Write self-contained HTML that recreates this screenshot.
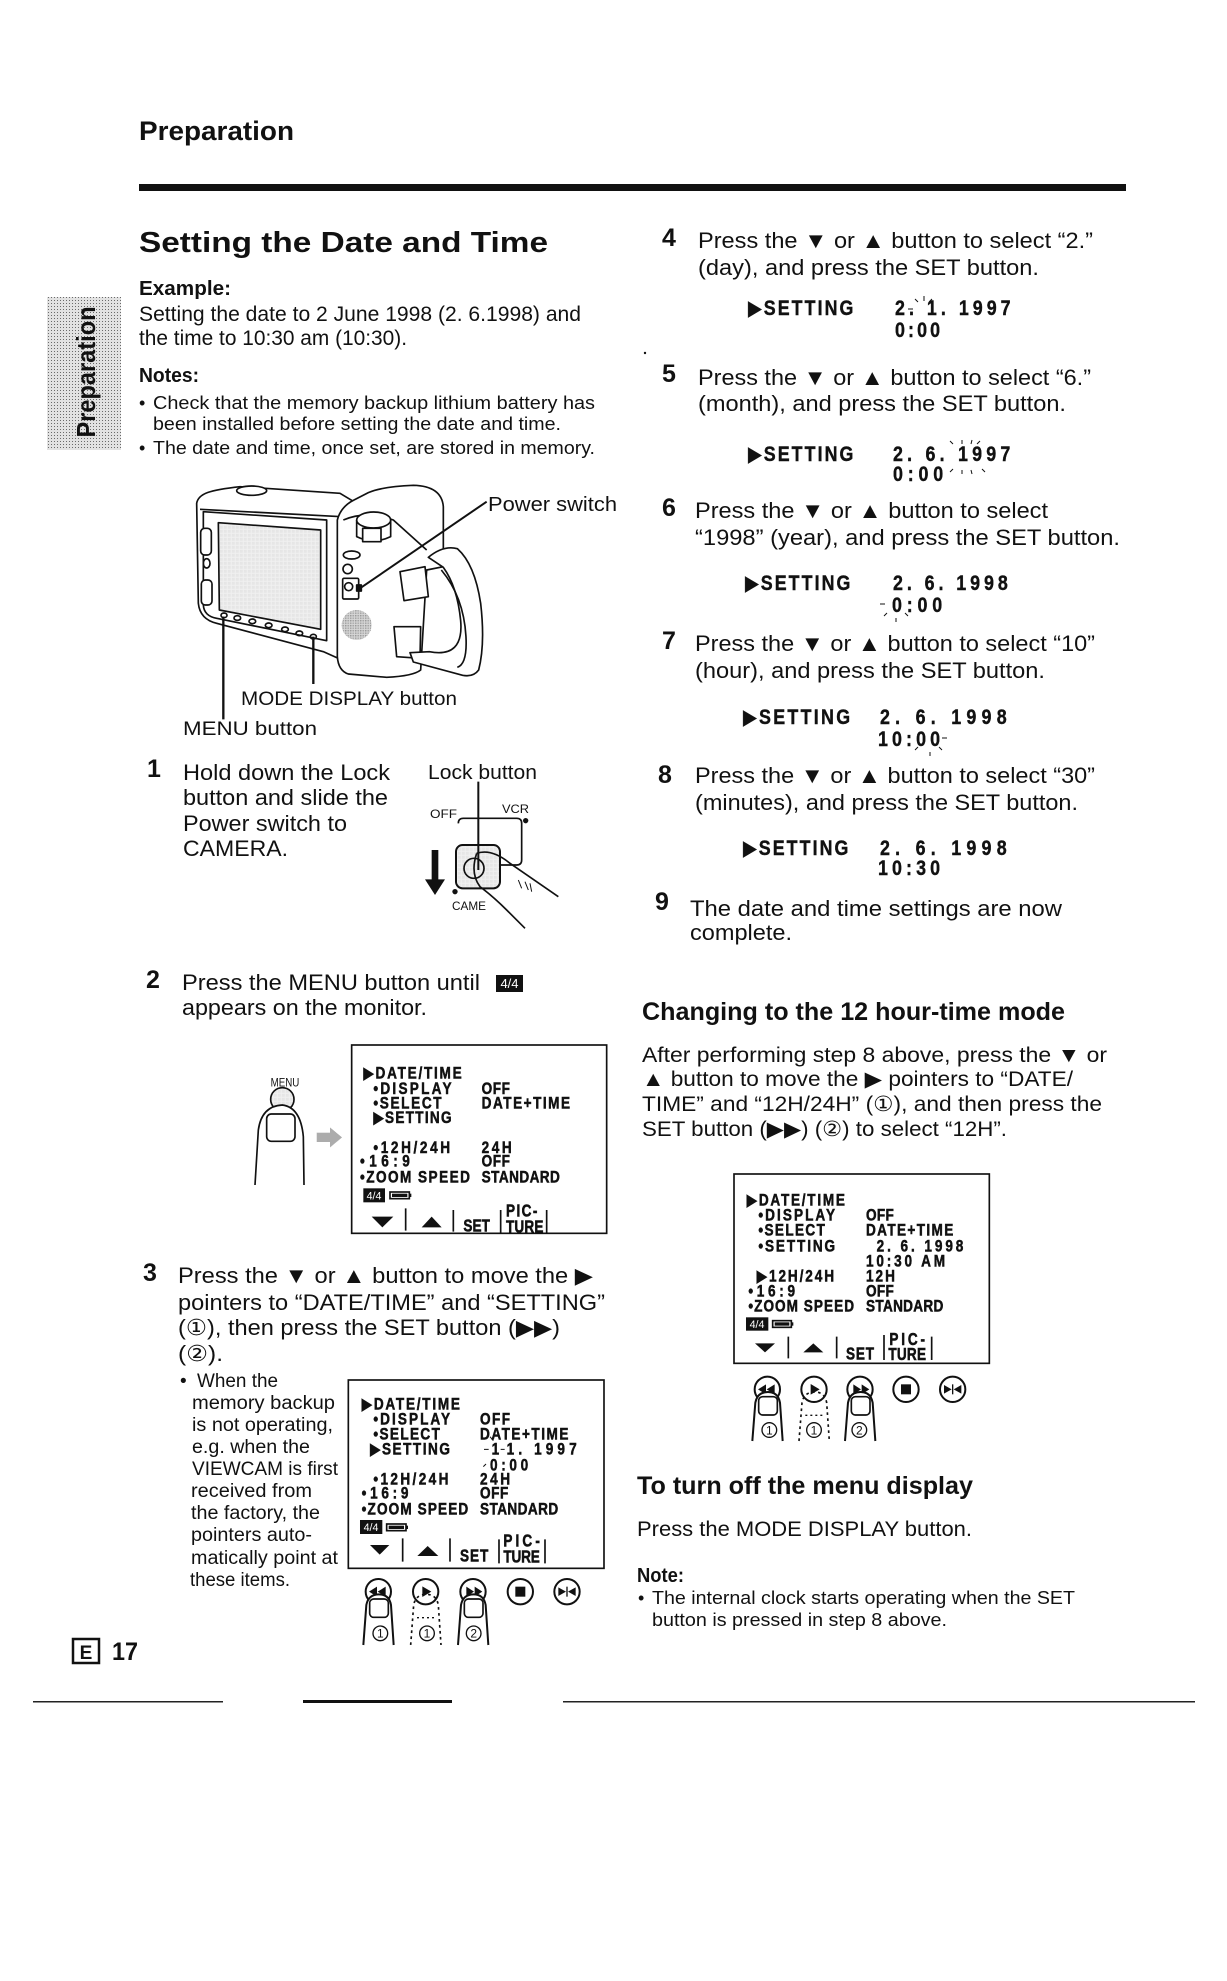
<!DOCTYPE html>
<html><head><meta charset="utf-8"><title>Setting the Date and Time</title>
<style>
html,body{margin:0;padding:0;background:#fff;}
svg{display:block;}
.t{font-family:"Liberation Sans","DejaVu Sans",sans-serif;fill:#111;}
.b{font-weight:bold;}
.l{font-family:"Liberation Sans","DejaVu Sans",sans-serif;font-weight:bold;fill:#111;font-size:48px;stroke:#111;stroke-width:1.5px;}
.s{font-family:"Liberation Sans","DejaVu Sans",sans-serif;font-weight:bold;fill:#111;font-size:21px;stroke:#111;stroke-width:0.4px;}
</style></head>
<body>
<svg width="1227" height="1981" viewBox="0 0 1227 1981" xmlns="http://www.w3.org/2000/svg">
<defs>
<pattern id="st" width="3" height="3" patternUnits="userSpaceOnUse"><rect width="3" height="3" fill="#e2e2e2"/><rect width="1" height="1" fill="#6a6a6a"/></pattern>
<pattern id="st2" width="4" height="4" patternUnits="userSpaceOnUse"><rect width="4" height="4" fill="#f0f0f0"/><rect width="1" height="1" fill="#999"/></pattern>
<pattern id="st3" width="3" height="3" patternUnits="userSpaceOnUse"><rect width="3" height="3" fill="#bbb"/><rect width="1" height="1" fill="#333"/></pattern>
<pattern id="st4" width="5" height="5" patternUnits="userSpaceOnUse"><rect width="5" height="5" fill="#d8d8d8"/><rect width="2" height="2" fill="#555"/></pattern>
</defs>
<rect width="1227" height="1981" fill="#fff"/>

<!-- Header -->
<text class="t b" x="139" y="140" font-size="27" textLength="155" lengthAdjust="spacingAndGlyphs">Preparation</text>
<rect x="139" y="184" width="987" height="7" fill="#111"/>

<!-- Sidebar tab -->
<rect x="47" y="297" width="74" height="153" fill="url(#st)"/>
<g transform="translate(95,372) rotate(-90)"><text class="t b" x="0" y="0" font-size="26" text-anchor="middle" textLength="131" lengthAdjust="spacingAndGlyphs">Preparation</text></g>

<!-- Title and intro -->
<text class="t b" x="139" y="252" font-size="29" textLength="409" lengthAdjust="spacingAndGlyphs">Setting the Date and Time</text>
<text class="t b" x="139" y="295" font-size="20" textLength="92" lengthAdjust="spacingAndGlyphs">Example:</text>
<text class="t" x="139" y="321" font-size="21" textLength="442" lengthAdjust="spacingAndGlyphs">Setting the date to 2 June 1998 (2. 6.1998) and</text>
<text class="t" x="139" y="345" font-size="21" textLength="268" lengthAdjust="spacingAndGlyphs">the time to 10:30 am (10:30).</text>
<text class="t b" x="139" y="382" font-size="20" textLength="60" lengthAdjust="spacingAndGlyphs">Notes:</text>
<text class="t" x="139" y="409" font-size="18">•</text>
<text class="t" x="153" y="409" font-size="18" textLength="442" lengthAdjust="spacingAndGlyphs">Check that the memory backup lithium battery has</text>
<text class="t" x="153" y="430" font-size="18" textLength="408" lengthAdjust="spacingAndGlyphs">been installed before setting the date and time.</text>
<text class="t" x="139" y="454" font-size="18">•</text>
<text class="t" x="153" y="454" font-size="18" textLength="442" lengthAdjust="spacingAndGlyphs">The date and time, once set, are stored in memory.</text>

<!-- Camera illustration (zoom coords) -->
<g transform="translate(180,470) scale(0.33333)" fill="none" stroke="#111" stroke-width="5" stroke-linejoin="round">
  <path d="M50,100 C55,70 90,60 180,50 L480,70 L530,100 L490,140 L475,565 L430,545 L110,460 Q60,448 55,400 Z" fill="#fff"/>
  <path d="M60,118 L485,140"/>
  <ellipse cx="215" cy="62" rx="45" ry="14" fill="#fff"/>
  <path d="M70,125 L440,150 L440,512 L110,445 Q72,438 70,405 Z" fill="#fff"/>
  <path d="M115,158 L422,180 L422,478 L118,420 Z" fill="url(#st2)"/>
  <rect x="62" y="175" width="32" height="80" rx="12" fill="#fff"/>
  <ellipse cx="80" cy="280" rx="10" ry="14"/>
  <rect x="64" y="330" width="32" height="75" rx="12" fill="#fff"/>
  <ellipse cx="132" cy="436" rx="9" ry="7"/><ellipse cx="172" cy="444" rx="10" ry="7"/><ellipse cx="217" cy="454" rx="10" ry="7"/><ellipse cx="266" cy="466" rx="10" ry="7"/><ellipse cx="315" cy="478" rx="10" ry="7"/><ellipse cx="358" cy="490" rx="10" ry="7"/><ellipse cx="400" cy="500" rx="9" ry="7"/>
  <path d="M472,150 Q482,110 522,90 L565,68 Q605,50 700,46 Q785,48 790,110 L790,290 L740,300 L722,600 Q700,618 620,622 L505,612 Q475,602 472,560 Z" fill="#fff"/>
  <path d="M490,150 Q560,120 640,150 L740,240"/>
  <path d="M530,150 L530,200 Q580,225 632,200 L632,150" fill="#fff"/>
  <ellipse cx="581" cy="150" rx="51" ry="24" fill="#fff"/>
  <rect x="548" y="175" width="55" height="40" fill="#fff"/>
  <ellipse cx="515" cy="255" rx="25" ry="12"/>
  <circle cx="503" cy="297" r="14"/>
  <rect x="488" y="325" width="48" height="62" rx="4" fill="#fff"/>
  <circle cx="506" cy="350" r="12"/>
  <rect x="530" y="345" width="14" height="18" fill="#111"/>
  <circle cx="530" cy="465" r="45" fill="url(#st4)" stroke="none"/>
  <path d="M660,305 L735,290 L745,380 L672,392 Z" fill="#fff"/>
  <path d="M642,470 L722,470 L720,565 L650,560 Z" fill="#fff"/>
  <path d="M745,262 Q790,225 832,236 Q884,282 902,400 Q916,522 896,600 Q880,622 848,616 L700,576 L690,548 L748,545 Q852,565 842,452 Q832,350 790,292 Z" fill="#fff"/>
  <path d="M784,300 Q852,382 858,502 Q862,582 832,592"/>
  <path d="M920,95 L540,355" stroke-width="6"/>
  <path d="M130,440 L130,748" stroke-width="7"/>
  <path d="M400,500 L400,642" stroke-width="7"/>
</g>
<text class="t" x="488" y="511" font-size="20" textLength="129" lengthAdjust="spacingAndGlyphs">Power switch</text>
<text class="t" x="241" y="705" font-size="19" textLength="216" lengthAdjust="spacingAndGlyphs">MODE DISPLAY button</text>
<text class="t" x="183" y="735" font-size="19" textLength="134" lengthAdjust="spacingAndGlyphs">MENU button</text>

<!-- Step 1 -->
<text class="t b" x="147" y="777" font-size="25">1</text>
<text class="t" x="183" y="780" font-size="22" textLength="207" lengthAdjust="spacingAndGlyphs">Hold down the Lock</text>
<text class="t" x="183" y="805" font-size="22" textLength="205" lengthAdjust="spacingAndGlyphs">button and slide the</text>
<text class="t" x="183" y="831" font-size="22" textLength="164" lengthAdjust="spacingAndGlyphs">Power switch to</text>
<text class="t" x="183" y="856" font-size="22" textLength="105" lengthAdjust="spacingAndGlyphs">CAMERA.</text>
<text class="t" x="428" y="779" font-size="20" textLength="109" lengthAdjust="spacingAndGlyphs">Lock button</text>
<g transform="translate(130,740) scale(0.33333)" fill="none" stroke="#111" stroke-width="5">
  <path d="M985,250 Q985,235 1000,235 L1160,235 Q1175,235 1175,250 L1175,360 Q1175,375 1160,375 L1110,375"/>
  <rect x="978" y="315" width="132" height="130" rx="20" fill="url(#st2)" stroke-width="6"/>
  <circle cx="1032" cy="385" r="30"/>
  <path d="M1045,125 L1045,390" stroke-width="6"/>
  <path d="M1040,340 Q1085,325 1140,370 L1285,470" fill="none"/>
  <path d="M1040,340 Q1020,400 1050,440 Q1090,470 1130,510 L1185,565"/>
  <path d="M1165,420 L1175,445 M1185,425 L1195,450 M1200,430 L1205,455" stroke-width="3"/>
  <rect x="905" y="330" width="20" height="100" fill="#111" stroke="none"/>
  <polygon points="885,418 945,418 915,465" fill="#111" stroke="none"/>
  <circle cx="1187" cy="242" r="8" fill="#111" stroke="none"/>
  <circle cx="975" cy="455" r="8" fill="#111" stroke="none"/>
</g>
<text class="t" x="430" y="818" font-size="12" textLength="27" lengthAdjust="spacingAndGlyphs">OFF</text>
<text class="t" x="502" y="813" font-size="12" textLength="27" lengthAdjust="spacingAndGlyphs">VCR</text>
<text class="t" x="452" y="910" font-size="12" textLength="34" lengthAdjust="spacingAndGlyphs">CAME</text>

<!-- Step 2 -->
<text class="t b" x="146" y="988" font-size="25">2</text>
<text class="t" x="182" y="990" font-size="22" textLength="298" lengthAdjust="spacingAndGlyphs">Press the MENU button until</text>
<rect x="496" y="975" width="27" height="17" fill="#111"/>
<text class="t" x="509.5" y="988" font-size="13" text-anchor="middle" style="fill:#fff">4/4</text>
<text class="t" x="182" y="1015" font-size="22" textLength="245" lengthAdjust="spacingAndGlyphs">appears on the monitor.</text>

<!-- Menu box 1 -->
<g transform="translate(250,1030) scale(0.33333)">
  <text class="t" x="62" y="170" font-size="36" textLength="86" lengthAdjust="spacingAndGlyphs">MENU</text>
  <circle cx="97" cy="208" r="35" fill="url(#st2)" stroke="#111" stroke-width="5"/>
  <path d="M15,465 L25,300 Q35,228 97,225 Q152,232 160,320 L162,465" fill="#fff" stroke="#111" stroke-width="5"/>
  <rect x="50" y="252" width="85" height="82" rx="14" fill="none" stroke="#111" stroke-width="5"/>
  <polygon points="200,308 240,308 240,292 276,322 240,352 240,336 200,336" fill="url(#st3)"/>
  <rect x="305" y="45" width="765" height="565" fill="none" stroke="#111" stroke-width="5"/>
  <text class="l" transform="translate(340,145) scale(0.85,1.05)" textLength="347" lengthAdjust="spacing">▶DATE/TIME</text>
  <text class="l" transform="translate(370,192) scale(0.85,1.05)" textLength="276" lengthAdjust="spacing">•DISPLAY</text>
  <text class="l" transform="translate(695,192) scale(0.85,1.05)" textLength="100" lengthAdjust="spacing">OFF</text>
  <text class="l" transform="translate(370,235) scale(0.85,1.05)" textLength="241" lengthAdjust="spacing">•SELECT</text>
  <text class="l" transform="translate(695,235) scale(0.85,1.05)" textLength="312" lengthAdjust="spacing">DATE+TIME</text>
  <text class="l" transform="translate(370,279) scale(0.85,1.05)" textLength="276" lengthAdjust="spacing">▶SETTING</text>
  <text class="l" transform="translate(370,369) scale(0.85,1.05)" textLength="271" lengthAdjust="spacing">•12H/24H</text>
  <text class="l" transform="translate(695,369) scale(0.85,1.05)" textLength="106" lengthAdjust="spacing">24H</text>
  <text class="l" transform="translate(330,409) scale(0.85,1.05)" textLength="176" lengthAdjust="spacing">•16:9</text>
  <text class="l" transform="translate(695,409) scale(0.85,1.05)" textLength="100" lengthAdjust="spacing">OFF</text>
  <text class="l" transform="translate(330,457) scale(0.85,1.05)" textLength="388" lengthAdjust="spacing">•ZOOM SPEED</text>
  <text class="l" transform="translate(695,457) scale(0.85,1.05)" textLength="276" lengthAdjust="spacing">STANDARD</text>
  <rect x="340" y="475" width="65" height="42" fill="#111"/>
  <text class="t" x="372" y="508" font-size="32" text-anchor="middle" style="fill:#fff">4/4</text>
  <rect x="420" y="486" width="58" height="20" fill="none" stroke="#111" stroke-width="5"/>
  <rect x="426" y="491" width="46" height="10" fill="#111"/>
  <rect x="478" y="491" width="6" height="10" fill="#111"/>
  <polygon points="365,560 430,560 397,592" fill="#111"/>
  <polygon points="515,592 575,592 545,560" fill="#111"/>
  <path d="M467,535 L467,602 M610,540 L610,605 M752,540 L752,610 M890,540 L890,610" stroke="#111" stroke-width="5"/>
  <text class="l" font-size="40" transform="translate(640,605) scale(0.85,1.1)" textLength="94" lengthAdjust="spacing">SET</text>
  <text class="l" font-size="40" transform="translate(768,560) scale(0.85,1.1)" textLength="111" lengthAdjust="spacing">PIC-</text>
  <text class="l" font-size="40" transform="translate(768,607) scale(0.85,1.1)" textLength="132" lengthAdjust="spacing">TURE</text>
</g>

<!-- Step 3 -->
<text class="t b" x="143" y="1281" font-size="25">3</text>
<text class="t" x="178" y="1283" font-size="22" textLength="415" lengthAdjust="spacingAndGlyphs">Press the ▼ or ▲ button to move the ▶</text>
<text class="t" x="178" y="1310" font-size="22" textLength="427" lengthAdjust="spacingAndGlyphs">pointers to “DATE/TIME” and “SETTING”</text>
<text class="t" x="178" y="1335" font-size="22" textLength="382" lengthAdjust="spacingAndGlyphs">(①), then press the SET button (▶▶)</text>
<text class="t" x="178" y="1361" font-size="22" textLength="45" lengthAdjust="spacingAndGlyphs">(②).</text>
<text class="t" x="180" y="1387" font-size="19">•</text>
<text class="t" x="197" y="1387" font-size="19" textLength="81" lengthAdjust="spacingAndGlyphs">When the</text>
<text class="t" x="192" y="1409" font-size="19" textLength="143" lengthAdjust="spacingAndGlyphs">memory backup</text>
<text class="t" x="192" y="1431" font-size="19" textLength="141" lengthAdjust="spacingAndGlyphs">is not operating,</text>
<text class="t" x="192" y="1453" font-size="19" textLength="118" lengthAdjust="spacingAndGlyphs">e.g. when the</text>
<text class="t" x="192" y="1475" font-size="19" textLength="146" lengthAdjust="spacingAndGlyphs">VIEWCAM is first</text>
<text class="t" x="191" y="1497" font-size="19" textLength="121" lengthAdjust="spacingAndGlyphs">received from</text>
<text class="t" x="191" y="1519" font-size="19" textLength="129" lengthAdjust="spacingAndGlyphs">the factory, the</text>
<text class="t" x="191" y="1541" font-size="19" textLength="121" lengthAdjust="spacingAndGlyphs">pointers auto-</text>
<text class="t" x="191" y="1564" font-size="19" textLength="147" lengthAdjust="spacingAndGlyphs">matically point at</text>
<text class="t" x="190" y="1586" font-size="19" textLength="100" lengthAdjust="spacingAndGlyphs">these items.</text>

<!-- Menu box 2 -->
<g transform="translate(130,1250) scale(0.33333)">
  <rect x="655" y="390" width="767" height="565" fill="none" stroke="#111" stroke-width="5"/>
  <text class="l" transform="translate(695,478) scale(0.85,1.05)" textLength="347" lengthAdjust="spacing">▶DATE/TIME</text>
  <text class="l" transform="translate(730,524) scale(0.85,1.05)" textLength="271" lengthAdjust="spacing">•DISPLAY</text>
  <text class="l" transform="translate(1050,524) scale(0.85,1.05)" textLength="106" lengthAdjust="spacing">OFF</text>
  <text class="l" transform="translate(730,568) scale(0.85,1.05)" textLength="235" lengthAdjust="spacing">•SELECT</text>
  <text class="l" transform="translate(1050,568) scale(0.85,1.05)" textLength="312" lengthAdjust="spacing">DATE+TIME</text>
  <text class="l" transform="translate(720,614) scale(0.85,1.05)" textLength="282" lengthAdjust="spacing">▶SETTING</text>
  <text class="l" transform="translate(1085,614) scale(0.85,1.05)">1</text>
  <text class="l" transform="translate(1130,614) scale(0.85,1.05)" textLength="247" lengthAdjust="spacing">1. 1997</text>
  <path d="M1062,598 L1076,598 M1112,598 L1124,598 M1080,560 L1090,572 M1060,650 L1068,642" stroke="#111" stroke-width="3"/>
  <text class="l" transform="translate(1080,661) scale(0.85,1.05)" textLength="135" lengthAdjust="spacing">0:00</text>
  <text class="l" transform="translate(730,704) scale(0.85,1.05)" textLength="265" lengthAdjust="spacing">•12H/24H</text>
  <text class="l" transform="translate(1050,704) scale(0.85,1.05)" textLength="106" lengthAdjust="spacing">24H</text>
  <text class="l" transform="translate(695,746) scale(0.85,1.05)" textLength="165" lengthAdjust="spacing">•16:9</text>
  <text class="l" transform="translate(1050,746) scale(0.85,1.05)" textLength="100" lengthAdjust="spacing">OFF</text>
  <text class="l" transform="translate(695,794) scale(0.85,1.05)" textLength="376" lengthAdjust="spacing">•ZOOM SPEED</text>
  <text class="l" transform="translate(1050,794) scale(0.85,1.05)" textLength="276" lengthAdjust="spacing">STANDARD</text>
  <rect x="690" y="810" width="67" height="42" fill="#111"/>
  <text class="t" x="723" y="843" font-size="32" text-anchor="middle" style="fill:#fff">4/4</text>
  <rect x="770" y="822" width="58" height="20" fill="none" stroke="#111" stroke-width="5"/>
  <rect x="776" y="827" width="46" height="10" fill="#111"/>
  <rect x="828" y="827" width="6" height="10" fill="#111"/>
  <polygon points="720,885 778,885 749,914" fill="#111"/>
  <polygon points="862,918 925,918 893,888" fill="#111"/>
  <path d="M818,865 L818,935 M960,865 L960,935 M1107,868 L1107,940 M1245,868 L1245,940" stroke="#111" stroke-width="5"/>
  <text class="l" font-size="40" transform="translate(990,935) scale(0.85,1.1)" textLength="100" lengthAdjust="spacing">SET</text>
  <text class="l" font-size="40" transform="translate(1120,890) scale(0.85,1.1)" textLength="129" lengthAdjust="spacing">PIC-</text>
  <text class="l" font-size="40" transform="translate(1120,938) scale(0.85,1.1)" textLength="129" lengthAdjust="spacing">TURE</text>
</g>

<!-- Button row left -->
<g transform="translate(130,1250) scale(0.33333) translate(745,1025)" stroke="#111" stroke-width="6" fill="#fff">
  <circle cx="0" cy="0" r="38"/><circle cx="142" cy="0" r="38"/><circle cx="284" cy="0" r="38"/><circle cx="426" cy="0" r="38"/><circle cx="566" cy="0" r="38"/>
  <g fill="#111" stroke="none">
    <polygon points="-4,-15 -4,15 -28,0"/><polygon points="22,-15 22,15 -2,0"/>
    <polygon points="132,-16 132,16 159,0"/>
    <polygon points="264,-15 264,15 287,0"/><polygon points="289,-15 289,15 312,0"/>
    <rect x="411" y="-15" width="30" height="30"/>
    <polygon points="540,-13 540,13 563,0"/><polygon points="592,-13 592,13 569,0"/><rect x="564" y="-15" width="4" height="30"/>
  </g>
  <path d="M-45,160 L-36,40 Q-30,8 2,8 Q32,8 38,40 L46,160" fill="#fff"/>
  <rect x="-26" y="22" width="56" height="55" rx="12" fill="none" stroke-width="5"/>
  <path d="M97,160 L106,40 Q112,8 144,8 Q174,8 180,40 L188,160" fill="none" stroke-dasharray="8,10" stroke-width="5"/>
  <path d="M116,78 L172,78" fill="none" stroke-dasharray="6,9" stroke-width="4"/>
  <path d="M239,160 L248,40 Q254,8 286,8 Q316,8 322,40 L330,160" fill="#fff"/>
  <rect x="258" y="22" width="56" height="55" rx="12" fill="none" stroke-width="5"/>
  <circle cx="6" cy="125" r="22" stroke-width="4"/><circle cx="146" cy="125" r="22" stroke-width="4"/><circle cx="286" cy="125" r="22" stroke-width="4"/>
  <text class="t" x="6" y="138" font-size="36" text-anchor="middle" stroke="none">1</text>
  <text class="t" x="146" y="138" font-size="36" text-anchor="middle" stroke="none">1</text>
  <text class="t" x="286" y="138" font-size="36" text-anchor="middle" stroke="none">2</text>
</g>

<!-- Page number -->
<rect x="73" y="1639" width="26" height="24" fill="none" stroke="#111" stroke-width="2.5"/>
<text class="t b" x="86" y="1659" font-size="19" text-anchor="middle">E</text>
<text class="t b" x="112" y="1660" font-size="25" textLength="26" lengthAdjust="spacingAndGlyphs">17</text>
<rect x="33" y="1701" width="190" height="1.5" fill="#222"/>
<rect x="303" y="1700" width="149" height="3" fill="#111"/>
<rect x="563" y="1701" width="632" height="1.5" fill="#222"/>

<!-- Right column: step 4 -->
<text class="t b" x="662" y="246" font-size="25">4</text>
<text class="t" x="698" y="248" font-size="22" textLength="395" lengthAdjust="spacingAndGlyphs">Press the ▼ or ▲ button to select “2.”</text>
<text class="t" x="698" y="275" font-size="22" textLength="341" lengthAdjust="spacingAndGlyphs">(day), and press the SET button.</text>
<text class="s" transform="translate(748,315) scale(0.85,1.0)" textLength="124" lengthAdjust="spacing">▶SETTING</text>
<text class="s" transform="translate(895,315) scale(0.85,1.0)" textLength="136" lengthAdjust="spacing">2. 1. 1997</text>
<text class="s" transform="translate(895,337) scale(0.85,1.0)" textLength="53" lengthAdjust="spacing">0:00</text>
<path d="M924,296 L924,301 M915,299 L918,302 M932,299 L929,302 M908,309 L913,309" stroke="#111" stroke-width="1"/>
<circle cx="645" cy="353" r="1.2" fill="#111"/>

<!-- step 5 -->
<text class="t b" x="662" y="382" font-size="25">5</text>
<text class="t" x="698" y="385" font-size="22" textLength="393" lengthAdjust="spacingAndGlyphs">Press the ▼ or ▲ button to select “6.”</text>
<text class="t" x="698" y="411" font-size="22" textLength="368" lengthAdjust="spacingAndGlyphs">(month), and press the SET button.</text>
<text class="s" transform="translate(748,461) scale(0.85,1.0)" textLength="124" lengthAdjust="spacing">▶SETTING</text>
<text class="s" transform="translate(893,461) scale(0.85,1.0)" textLength="138" lengthAdjust="spacing">2. 6. 1997</text>
<text class="s" transform="translate(893,481) scale(0.85,1.0)" textLength="59" lengthAdjust="spacing">0:00</text>
<path d="M950,441 L953,444 M962,440 L962,444 M972,440 L971,444 M980,441 L977,444 M950,472 L953,469 M962,474 L962,470 M972,474 L971,470 M985,472 L982,469" stroke="#111" stroke-width="1"/>

<!-- step 6 -->
<text class="t b" x="662" y="516" font-size="25">6</text>
<text class="t" x="695" y="518" font-size="22" textLength="353" lengthAdjust="spacingAndGlyphs">Press the ▼ or ▲ button to select</text>
<text class="t" x="695" y="545" font-size="22" textLength="425" lengthAdjust="spacingAndGlyphs">“1998” (year), and press the SET button.</text>
<text class="s" transform="translate(745,590) scale(0.85,1.0)" textLength="124" lengthAdjust="spacing">▶SETTING</text>
<text class="s" transform="translate(893,590) scale(0.85,1.0)" textLength="135" lengthAdjust="spacing">2. 6. 1998</text>
<text class="s" transform="translate(892,612) scale(0.85,1.0)" textLength="59" lengthAdjust="spacing">0:00</text>
<path d="M880,604 L885,604 M884,616 L887,613 M896,618 L896,622 M908,616 L905,613" stroke="#111" stroke-width="1"/>

<!-- step 7 -->
<text class="t b" x="662" y="649" font-size="25">7</text>
<text class="t" x="695" y="651" font-size="22" textLength="400" lengthAdjust="spacingAndGlyphs">Press the ▼ or ▲ button to select “10”</text>
<text class="t" x="695" y="678" font-size="22" textLength="350" lengthAdjust="spacingAndGlyphs">(hour), and press the SET button.</text>
<text class="s" transform="translate(743,724) scale(0.85,1.0)" textLength="126" lengthAdjust="spacing">▶SETTING</text>
<text class="s" transform="translate(880,724) scale(0.85,1.0)" textLength="149" lengthAdjust="spacing">2. 6. 1998</text>
<text class="s" transform="translate(878,746) scale(0.85,1.0)" textLength="73" lengthAdjust="spacing">10:00</text>
<path d="M942,738 L947,738 M915,750 L918,747 M930,752 L930,756 M942,750 L939,747" stroke="#111" stroke-width="1"/>

<!-- step 8 -->
<text class="t b" x="658" y="783" font-size="25">8</text>
<text class="t" x="695" y="783" font-size="22" textLength="400" lengthAdjust="spacingAndGlyphs">Press the ▼ or ▲ button to select “30”</text>
<text class="t" x="695" y="810" font-size="22" textLength="383" lengthAdjust="spacingAndGlyphs">(minutes), and press the SET button.</text>
<text class="s" transform="translate(743,855) scale(0.85,1.0)" textLength="124" lengthAdjust="spacing">▶SETTING</text>
<text class="s" transform="translate(880,855) scale(0.85,1.0)" textLength="149" lengthAdjust="spacing">2. 6. 1998</text>
<text class="s" transform="translate(878,875) scale(0.85,1.0)" textLength="73" lengthAdjust="spacing">10:30</text>

<!-- step 9 -->
<text class="t b" x="655" y="910" font-size="25">9</text>
<text class="t" x="690" y="916" font-size="22" textLength="372" lengthAdjust="spacingAndGlyphs">The date and time settings are now</text>
<text class="t" x="690" y="940" font-size="22" textLength="102" lengthAdjust="spacingAndGlyphs">complete.</text>

<!-- Changing to 12 hour -->
<text class="t b" x="642" y="1020" font-size="25" textLength="423" lengthAdjust="spacingAndGlyphs">Changing to the 12 hour-time mode</text>
<text class="t" x="642" y="1062" font-size="21" textLength="465" lengthAdjust="spacingAndGlyphs">After performing step 8 above, press the  ▼ or</text>
<text class="t" x="642" y="1086" font-size="21" textLength="431" lengthAdjust="spacingAndGlyphs">▲ button to move the ▶ pointers to “DATE/</text>
<text class="t" x="642" y="1111" font-size="21" textLength="460" lengthAdjust="spacingAndGlyphs">TIME” and “12H/24H” (①), and then press the</text>
<text class="t" x="642" y="1136" font-size="21" textLength="365" lengthAdjust="spacingAndGlyphs">SET button (▶▶) (②) to select “12H”.</text>

<!-- Menu box 3 -->
<g transform="translate(630,980) scale(0.33333)">
  <rect x="312" y="582" width="766" height="568" fill="none" stroke="#111" stroke-width="5"/>
  <text class="l" transform="translate(350,677) scale(0.85,1.05)" textLength="347" lengthAdjust="spacing">▶DATE/TIME</text>
  <text class="l" transform="translate(385,722) scale(0.85,1.05)" textLength="271" lengthAdjust="spacing">•DISPLAY</text>
  <text class="l" transform="translate(708,722) scale(0.85,1.05)" textLength="98" lengthAdjust="spacing">OFF</text>
  <text class="l" transform="translate(385,767) scale(0.85,1.05)" textLength="235" lengthAdjust="spacing">•SELECT</text>
  <text class="l" transform="translate(708,767) scale(0.85,1.05)" textLength="308" lengthAdjust="spacing">DATE+TIME</text>
  <text class="l" transform="translate(385,814) scale(0.85,1.05)" textLength="271" lengthAdjust="spacing">•SETTING</text>
  <text class="l" transform="translate(740,814) scale(0.85,1.05)" textLength="306" lengthAdjust="spacing">2. 6. 1998</text>
  <text class="l" transform="translate(708,859) scale(0.85,1.05)" textLength="279" lengthAdjust="spacing">10:30 AM</text>
  <text class="l" transform="translate(380,904) scale(0.85,1.05)" textLength="273" lengthAdjust="spacing">▶12H/24H</text>
  <text class="l" transform="translate(708,904) scale(0.85,1.05)" textLength="102" lengthAdjust="spacing">12H</text>
  <text class="l" transform="translate(355,949) scale(0.85,1.05)" textLength="165" lengthAdjust="spacing">•16:9</text>
  <text class="l" transform="translate(708,949) scale(0.85,1.05)" textLength="98" lengthAdjust="spacing">OFF</text>
  <text class="l" transform="translate(355,994) scale(0.85,1.05)" textLength="373" lengthAdjust="spacing">•ZOOM SPEED</text>
  <text class="l" transform="translate(708,994) scale(0.85,1.05)" textLength="273" lengthAdjust="spacing">STANDARD</text>
  <rect x="348" y="1012" width="67" height="40" fill="#111"/>
  <text class="t" x="381" y="1044" font-size="32" text-anchor="middle" style="fill:#fff">4/4</text>
  <rect x="428" y="1022" width="56" height="20" fill="none" stroke="#111" stroke-width="5"/>
  <rect x="434" y="1027" width="44" height="10" fill="#111"/>
  <rect x="484" y="1027" width="6" height="10" fill="#111"/>
  <polygon points="375,1090 435,1090 405,1117" fill="#111"/>
  <polygon points="520,1117 580,1117 550,1090" fill="#111"/>
  <path d="M475,1070 L475,1135 M620,1070 L620,1135 M762,1065 L762,1140 M905,1070 L905,1140" stroke="#111" stroke-width="5"/>
  <text class="l" font-size="40" transform="translate(648,1138) scale(0.85,1.1)" textLength="99" lengthAdjust="spacing">SET</text>
  <text class="l" font-size="40" transform="translate(778,1095) scale(0.85,1.1)" textLength="126" lengthAdjust="spacing">PIC-</text>
  <text class="l" font-size="40" transform="translate(775,1140) scale(0.85,1.1)" textLength="133" lengthAdjust="spacing">TURE</text>
</g>

<!-- Button row right -->
<g transform="translate(630,1360) scale(0.33333) translate(412,88)" stroke="#111" stroke-width="6" fill="#fff">
  <circle cx="0" cy="0" r="38"/><circle cx="140" cy="0" r="38"/><circle cx="278" cy="0" r="38"/><circle cx="416" cy="0" r="38"/><circle cx="556" cy="0" r="38"/>
  <g fill="#111" stroke="none">
    <polygon points="-4,-15 -4,15 -28,0"/><polygon points="22,-15 22,15 -2,0"/>
    <polygon points="130,-16 130,16 157,0"/>
    <polygon points="258,-15 258,15 281,0"/><polygon points="283,-15 283,15 306,0"/>
    <rect x="401" y="-15" width="30" height="30"/>
    <polygon points="530,-13 530,13 553,0"/><polygon points="582,-13 582,13 559,0"/><rect x="554" y="-15" width="4" height="30"/>
  </g>
  <path d="M-45,155 L-36,40 Q-30,8 2,8 Q32,8 38,40 L46,155" fill="#fff"/>
  <rect x="-26" y="22" width="56" height="55" rx="12" fill="none" stroke-width="5"/>
  <path d="M95,155 L104,40 Q110,8 142,8 Q172,8 178,40 L186,155" fill="none" stroke-dasharray="8,10" stroke-width="5"/>
  <path d="M114,78 L170,78" fill="none" stroke-dasharray="6,9" stroke-width="4"/>
  <path d="M233,155 L242,40 Q248,8 280,8 Q310,8 316,40 L324,155" fill="#fff"/>
  <rect x="252" y="22" width="56" height="55" rx="12" fill="none" stroke-width="5"/>
  <circle cx="6" cy="122" r="22" stroke-width="4"/><circle cx="140" cy="122" r="22" stroke-width="4"/><circle cx="276" cy="122" r="22" stroke-width="4"/>
  <text class="t" x="6" y="135" font-size="36" text-anchor="middle" stroke="none">1</text>
  <text class="t" x="140" y="135" font-size="36" text-anchor="middle" stroke="none">1</text>
  <text class="t" x="276" y="135" font-size="36" text-anchor="middle" stroke="none">2</text>
</g>

<!-- To turn off -->
<text class="t b" x="637" y="1494" font-size="25" textLength="336" lengthAdjust="spacingAndGlyphs">To turn off the menu display</text>
<text class="t" x="637" y="1536" font-size="21" textLength="335" lengthAdjust="spacingAndGlyphs">Press the MODE DISPLAY button.</text>
<text class="t b" x="637" y="1582" font-size="20" textLength="47" lengthAdjust="spacingAndGlyphs">Note:</text>
<text class="t" x="638" y="1604" font-size="18">•</text>
<text class="t" x="652" y="1604" font-size="18" textLength="423" lengthAdjust="spacingAndGlyphs">The internal clock starts operating when the SET</text>
<text class="t" x="652" y="1626" font-size="18" textLength="295" lengthAdjust="spacingAndGlyphs">button is pressed in step 8 above.</text>
</svg>
</body></html>
